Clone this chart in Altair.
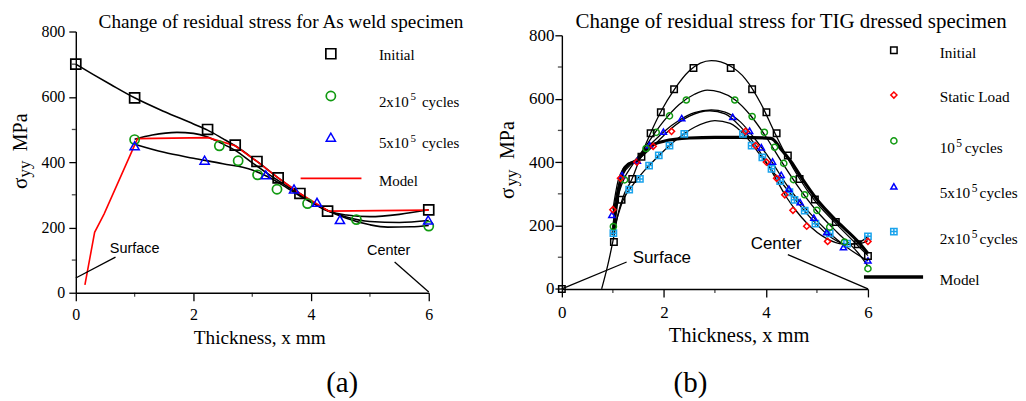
import altair as alt
import pandas as pd

SERIF = "Liberation Serif"
SANS = "Liberation Sans"

# ---------------- Panel (a): As weld specimen ----------------
a_init_x = [0.0, 1.0, 2.24, 2.71, 3.08, 3.44, 3.81, 4.28, 6.0]
a_init_y = [700, 597, 500, 452, 402, 352, 304, 250, 254]
a_c2_x = [1.0, 2.44, 2.76, 3.09, 3.42, 3.94, 4.77, 6.0]
a_c2_y = [469, 450, 404, 361, 317, 273, 224, 204]
a_c5_x = [1.0, 2.19, 3.23, 3.71, 4.10, 4.49, 5.99]
a_c5_y = [450, 406, 361, 318, 277, 224, 223]

a_fit_init_x = [0, 0.3, 0.6, 1.0, 1.5, 2.0, 2.24, 2.5, 2.71, 3.08, 3.44, 3.81, 4.28, 4.6, 5.0, 5.5, 6.0]
a_fit_init_y = [700, 668, 637, 597, 555, 517, 498, 472, 450, 402, 352, 304, 250, 238, 233, 240, 254]
a_fit_c2_x = [1.0, 1.3, 1.72, 2.0, 2.23, 2.45, 2.71, 3.0, 3.3, 3.6, 3.9, 4.28, 4.6, 5.0, 5.3, 5.7, 6.0]
a_fit_c2_y = [470, 483, 491, 488, 478, 460, 436, 398, 360, 325, 290, 252, 228, 208, 201, 202, 206]
a_fit_c5_x = [1.0, 1.5, 2.0, 2.5, 3.0, 3.3, 3.6, 3.9, 4.28, 4.6, 5.0, 5.5, 6.0]
a_fit_c5_y = [455, 430, 412, 395, 376, 352, 320, 287, 252, 232, 218, 215, 221]

a_model_x = [0.155, 0.32, 0.48, 1.0, 1.05, 2.25, 2.71, 3.08, 3.44, 3.81, 4.3, 6.0]
a_model_y = [24, 185, 241, 452, 472, 475, 450, 402, 352, 304, 250, 253]

a_surface_x = [0.0, 0.675]
a_surface_y = [45, 109]
a_center_x = [5.42, 6.0]
a_center_y = [94, 2]

a_legend = ["Initial", "2x10", "5x10", "Model"]

# ---------------- Panel (b): TIG dressed specimen ----------------
b_init_x = [0.0, 1.02, 1.17, 1.38, 1.56, 1.74, 1.94, 2.2, 2.58, 3.31, 3.73, 4.01, 4.21, 4.43, 4.66, 4.96, 5.37, 5.8, 6.0]
b_init_y = [0, 148, 281, 347, 417, 491, 557, 630, 697, 697, 630, 557, 491, 421, 347, 282, 211, 141, 104]
b_st_x = [1.0, 1.15, 1.47, 1.79, 2.15, 3.6, 3.8, 4.01, 4.21, 4.37, 4.53, 4.8, 5.21, 6.0]
b_st_y = [250, 349, 400, 450, 497, 497, 452, 400, 349, 297, 248, 198, 150, 150]
b_c1_x = [1.01, 1.23, 1.65, 1.85, 2.11, 2.44, 3.39, 3.73, 3.97, 4.17, 4.35, 4.54, 4.76, 5.0, 5.25, 5.54, 6.0]
b_c1_y = [197, 344, 443, 494, 546, 596, 596, 544, 494, 447, 396, 345, 297, 248, 195, 148, 64]
b_c5_x = [0.98, 1.18, 1.48, 1.72, 1.99, 2.35, 3.35, 3.68, 3.91, 4.13, 4.30, 4.45, 4.67, 4.94, 5.19, 5.52, 6.0]
b_c5_y = [234, 359, 405, 454, 496, 539, 543, 499, 447, 402, 360, 316, 274, 225, 179, 132, 90]
b_c2_x = [1.01, 1.32, 1.53, 1.71, 1.9, 2.11, 2.4, 3.55, 3.72, 3.93, 4.11, 4.28, 4.46, 4.56, 4.76, 4.97, 5.25, 5.59, 6.0]
b_c2_y = [176, 313, 347, 389, 421, 452, 489, 489, 452, 415, 379, 340, 305, 281, 247, 206, 175, 143, 166]

b_fit_init_x = [0.78, 0.9, 1.0, 1.1, 1.2, 1.37, 1.55, 1.74, 1.95, 2.2, 2.5, 2.93, 3.3, 3.6, 3.9, 4.16, 4.4, 4.65, 4.95, 5.35, 5.75, 6.0]
b_fit_init_y = [0, 75, 150, 235, 290, 345, 420, 492, 562, 628, 688, 720, 703, 662, 585, 497, 420, 350, 280, 210, 145, 105]
b_fit_c1_x = [1.0, 1.1, 1.2, 1.4, 1.6, 1.8, 2.0, 2.3, 2.6, 2.85, 3.1, 3.4, 3.7, 4.0, 4.3, 4.6, 5.0, 5.4, 5.8, 6.0]
b_fit_c1_y = [195, 290, 340, 395, 440, 487, 530, 582, 614, 627, 621, 596, 547, 480, 403, 330, 245, 178, 115, 72]
b_fit_c5_x = [1.0, 1.1, 1.2, 1.4, 1.7, 2.0, 2.3, 2.6, 2.93, 3.2, 3.5, 3.8, 4.1, 4.4, 4.8, 5.2, 5.6, 6.0]
b_fit_c5_y = [235, 320, 362, 400, 450, 496, 532, 556, 565, 558, 527, 470, 405, 330, 250, 183, 130, 88]
b_fit_st_x = [1.0, 1.1, 1.2, 1.3, 1.5, 1.8, 2.1, 2.5, 2.9, 3.2, 3.5, 3.8, 4.1, 4.4, 4.6, 4.8, 5.2, 5.5, 5.8, 6.0]
b_fit_st_y = [250, 340, 380, 395, 410, 452, 500, 545, 562, 552, 512, 452, 375, 290, 245, 208, 158, 142, 142, 152]
b_fit_c2_x = [1.0, 1.2, 1.4, 1.6, 1.9, 2.2, 2.6, 3.0, 3.3, 3.6, 3.9, 4.2, 4.5, 4.9, 5.3, 5.6, 5.8, 6.0]
b_fit_c2_y = [175, 280, 330, 370, 420, 465, 510, 531, 522, 482, 420, 357, 297, 220, 160, 140, 145, 165]

b_model_x = [1.0, 1.1, 1.2, 1.3, 1.45, 1.7, 2.0, 2.5, 3.0, 3.5, 4.1, 4.3, 4.5, 4.7, 5.0, 5.4, 5.8, 6.0]
b_model_y = [170, 300, 370, 393, 402, 447, 466, 476, 478, 478, 475, 440, 400, 350, 282, 212, 150, 112]

b_surface_x = [0.0, 1.27]
b_surface_y = [0, 85]
b_center_x = [4.43, 6.0]
b_center_y = [108, 0]

b_legend = ["Initial", "Static Load", "10", "5x10", "2x10", "Model"]

minor_x = [1, 3, 5]
minor_y = [100, 300, 500, 700]
major_x = [0, 2, 4, 6]
major_y = [0, 200, 400, 600, 800]

GREEN = "#119a11"
BLUE = "#0000ff"
RED = "#ff0000"
LBLUE = "#1aa3ec"
PLUS_SQUARE = "M-1,-1L1,-1L1,1L-1,1Z M0,-1L0,1 M-1,0L1,0"


def df(xs, ys):
    return pd.DataFrame({"x": xs, "y": ys})


def curves(pairs):
    frames = []
    for name, xs, ys in pairs:
        d = df(xs, ys)
        d["s"] = name
        frames.append(d)
    return pd.concat(frames, ignore_index=True)


ONE = pd.DataFrame({"k": [0]})


def label(text, x, y, size, font=SERIF, align="left", baseline="alphabetic", angle=0):
    return alt.Chart(ONE).mark_text(
        text=text, font=font, fontSize=size, align=align, baseline=baseline,
        angle=angle, color="black"
    ).encode(x=alt.value(x), y=alt.value(y))


def sym(shape, x, y, size, color, sw):
    return alt.Chart(ONE).mark_point(
        shape=shape, size=size, color=color, filled=False, strokeWidth=sw, opacity=1
    ).encode(x=alt.value(x), y=alt.value(y))


def panel(xfs, lab_pad, tY, tX, tfs, ylab_pad, yfs):
    X = alt.X("x:Q", scale=alt.Scale(domain=[0, 6], nice=False, zero=False),
              axis=alt.Axis(values=major_x, tickSize=8, labelPadding=lab_pad,
                            labelBaseline="alphabetic", labelFontSize=xfs,
                            labelFlush=False, labelOverlap=False, grid=False,
                            title="Thickness, x mm", titleFontSize=tfs, titleY=tY,
                            titleX=tX, titleBaseline="alphabetic"))
    Y = alt.Y("y:Q", scale=alt.Scale(domain=[0, 800], nice=False),
              axis=alt.Axis(values=major_y, tickSize=7, labelPadding=ylab_pad,
                            labelFontSize=yfs, labelFlush=False, grid=False, title=None))
    return X, Y


def minor_ticks(X, Y):
    tx = alt.Chart(df(minor_x, [0] * len(minor_x))).mark_tick(
        orient="vertical", size=4, thickness=1.3, color="black", yOffset=2
    ).encode(x=X, y=Y)
    ty = alt.Chart(df([0] * len(minor_y), minor_y)).mark_tick(
        orient="horizontal", size=4, thickness=1.3, color="black", xOffset=-2
    ).encode(x=X, y=Y)
    return [tx, ty]


# ---------- build panel (a) ----------
WA, HA = 354, 262
XA, YA = panel(16, 18.7, 51, 184, 19.3, 4, 16)

a_fits = curves([("init", a_fit_init_x, a_fit_init_y),
                 ("c2", a_fit_c2_x, a_fit_c2_y),
                 ("c5", a_fit_c5_x, a_fit_c5_y)])

layers_a = [
    alt.Chart(a_fits).mark_line(color="black", strokeWidth=1.6, interpolate="monotone").encode(
        x=XA, y=YA, detail="s:N"),
    alt.Chart(df(a_model_x, a_model_y)).mark_line(color=RED, strokeWidth=1.6).encode(x=XA, y=YA),
    alt.Chart(df(a_surface_x, a_surface_y)).mark_line(color="black", strokeWidth=1.3).encode(x=XA, y=YA),
    alt.Chart(df(a_center_x, a_center_y)).mark_line(color="black", strokeWidth=1.3).encode(x=XA, y=YA),
    alt.Chart(df(a_init_x, a_init_y)).mark_point(shape="square", size=100, color="black",
                                                  filled=False, strokeWidth=1.7, opacity=1).encode(x=XA, y=YA),
    alt.Chart(df(a_c2_x, a_c2_y)).mark_point(shape="circle", size=85, color=GREEN,
                                              filled=False, strokeWidth=1.7, opacity=1).encode(x=XA, y=YA),
    alt.Chart(df(a_c5_x, a_c5_y)).mark_point(shape="triangle-up", size=85, color=BLUE,
                                              filled=False, strokeWidth=1.5, opacity=1).encode(x=XA, y=YA),
    alt.Chart(df([1.0], [134])).mark_text(text="Surface", font=SANS, fontSize=14.5, color="black").encode(x=XA, y=YA),
    alt.Chart(df([5.32], [127])).mark_text(text="Center", font=SANS, fontSize=14.5, color="black").encode(x=XA, y=YA),
] + minor_ticks(XA, YA) + [
    # legend
    sym("square", 255.8, 22.3, 100, "black", 1.7),
    sym("circle", 255.8, 64.7, 85, GREEN, 1.7),
    sym("triangle-up", 255.8, 106, 85, BLUE, 1.5),
    alt.Chart(ONE).mark_rule(color=RED, strokeWidth=1.6).encode(
        x=alt.value(225.5), x2=alt.value(286.5), y=alt.value(147.3)),
    label(a_legend[0], 304, 28.7, 15),
    label(a_legend[1], 304, 75.3, 15),
    label("5", 335.8, 69, 11),
    label("cycles", 347.2, 75.3, 15),
    label(a_legend[2], 304, 117, 15),
    label("5", 335.8, 110.7, 11),
    label("cycles", 347.2, 117, 15),
    label(a_legend[3], 304, 154.7, 15),
    # title, y title, panel tag
    label("Change of residual stress for As weld specimen", 205.8, -3.7, 19.3, align="center"),
    label("σ", -48.5, 158, 21, angle=270),
    label("yy", -46, 146.5, 17, angle=270),
    label("MPa", -48.5, 120, 20, angle=270),
    label("(a)", 267.2, 361.5, 29, align="center"),
]
chart_a = alt.layer(*layers_a).properties(width=WA, height=HA)

# ---------- build panel (b) ----------
WB, HB = 307, 254.4
XB, YB = panel(17, 20.8, 53.1, 177.3, 20.6, 1, 17)

b_fits = curves([("init", b_fit_init_x, b_fit_init_y),
                 ("c1", b_fit_c1_x, b_fit_c1_y),
                 ("c5", b_fit_c5_x, b_fit_c5_y),
                 ("st", b_fit_st_x, b_fit_st_y),
                 ("c2", b_fit_c2_x, b_fit_c2_y)])

LF = 15.3  # legend font size (panel b)
layers_b = [
    alt.Chart(b_fits).mark_line(color="black", strokeWidth=1.3, interpolate="monotone").encode(
        x=XB, y=YB, detail="s:N"),
    alt.Chart(df(b_model_x, b_model_y)).mark_line(color="black", strokeWidth=3.2, interpolate="monotone").encode(x=XB, y=YB),
    alt.Chart(df(b_surface_x, b_surface_y)).mark_line(color="black", strokeWidth=1.3).encode(x=XB, y=YB),
    alt.Chart(df(b_center_x, b_center_y)).mark_line(color="black", strokeWidth=1.3).encode(x=XB, y=YB),
    alt.Chart(df(b_c2_x, b_c2_y)).mark_point(shape=PLUS_SQUARE, size=40, color=LBLUE,
                                              filled=False, strokeWidth=1.5, opacity=1).encode(x=XB, y=YB),
    alt.Chart(df(b_c5_x, b_c5_y)).mark_point(shape="triangle-up", size=38, color=BLUE,
                                              filled=False, strokeWidth=1.5, opacity=1).encode(x=XB, y=YB),
    alt.Chart(df(b_c1_x, b_c1_y)).mark_point(shape="circle", size=38, color=GREEN,
                                              filled=False, strokeWidth=1.5, opacity=1).encode(x=XB, y=YB),
    alt.Chart(df(b_st_x, b_st_y)).mark_point(shape="diamond", size=38, color=RED,
                                              filled=False, strokeWidth=1.5, opacity=1).encode(x=XB, y=YB),
    alt.Chart(df(b_init_x, b_init_y)).mark_point(shape="square", size=42, color="black",
                                                  filled=False, strokeWidth=1.5, opacity=1).encode(x=XB, y=YB),
    alt.Chart(df([1.96], [98])).mark_text(text="Surface", font=SANS, fontSize=17, color="black").encode(x=XB, y=YB),
    alt.Chart(df([4.2], [140.6])).mark_text(text="Center", font=SANS, fontSize=17, color="black").encode(x=XB, y=YB),
] + minor_ticks(XB, YB) + [
    # legend
    sym("square", 333, 14.9, 42, "black", 1.5),
    sym("diamond", 333, 59.9, 38, RED, 1.5),
    sym("circle", 333, 105.9, 38, GREEN, 1.5),
    sym("triangle-up", 333, 151.5, 38, BLUE, 1.5),
    sym(PLUS_SQUARE, 333, 196.9, 40, LBLUE, 1.5),
    alt.Chart(ONE).mark_rule(color="black", strokeWidth=3.5).encode(
        x=alt.value(303), x2=alt.value(362.3), y=alt.value(242.5)),
    label(b_legend[0], 379, 22.5, LF),
    label(b_legend[1], 379, 66.9, LF),
    label(b_legend[2], 379, 118.2, LF),
    label("5", 395.5, 112.5, 11.5),
    label("cycles", 404, 118.2, LF),
    label(b_legend[3], 379, 163.2, LF),
    label("5", 411, 157.5, 11.5),
    label("cycles", 419, 163.2, LF),
    label(b_legend[4], 379, 209.2, LF),
    label("5", 411, 203.5, 11.5),
    label("cycles", 419, 209.2, LF),
    label(b_legend[5], 379, 250.9, LF),
    label("Change of residual stress for TIG dressed specimen", 230, -7.5, 21, align="center"),
    label("σ", -47.5, 164.2, 21, angle=270),
    label("yy", -45, 151.5, 17, angle=270),
    label("MPa", -47.5, 124, 20, angle=270),
    label("(b)", 129, 357.7, 29, align="center"),
]
chart_b = alt.layer(*layers_b).properties(width=WB, height=HB)

chart = alt.hconcat(chart_a, chart_b, spacing=133.5, bounds="flush", center=True).properties(
    padding={"left": 2, "top": 2, "right": 0, "bottom": 0}
).configure_axis(
    labelFont=SERIF, titleFont=SERIF, labelColor="black", titleColor="black",
    domainColor="black", tickColor="black", domainWidth=1.4, tickWidth=1.3,
    titleFontWeight="normal"
).configure_view(stroke=None)

chart.save("out.html", embed_options={"renderer": "svg", "actions": False})
